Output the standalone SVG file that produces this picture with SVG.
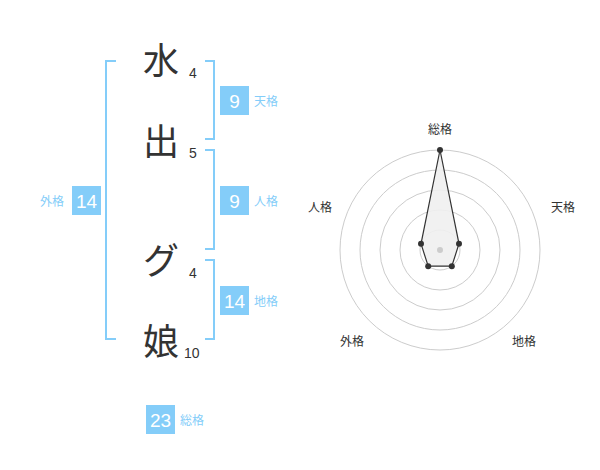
<svg xmlns="http://www.w3.org/2000/svg" width="600" height="470" viewBox="0 0 600 470">
<style>
.ch{font-family:"Noto Sans CJK JP","Noto Sans",sans-serif;font-size:36px;fill:#333;text-anchor:middle}
.st{font-family:"Liberation Sans","Noto Sans",sans-serif;font-size:14px;fill:#333}
.br{fill:none;stroke:#84cdf9;stroke-width:2}
.bx{fill:#84cdf9}
.bn{font-family:"Liberation Sans","Noto Sans",sans-serif;font-size:19px;fill:#fff;text-anchor:middle}
.lb{font-family:"Noto Sans CJK JP",sans-serif;font-size:12px;fill:#84cdf9}
.rl{font-family:"Noto Sans CJK JP",sans-serif;font-size:12px;fill:#333;text-anchor:middle}
.ring{fill:none;stroke:#ccc;stroke-width:1}
.pt{fill:#333}
</style>
<g id="chars">
<text class="ch" x="161" y="74">水</text>
<text class="ch" x="161" y="155">出</text>
<text class="ch" x="161" y="274">グ</text>
<text class="ch" x="161" y="355">娘</text>
<text class="st" x="189" y="78">4</text>
<text class="st" x="189" y="158">5</text>
<text class="st" x="189" y="278">4</text>
<text class="st" x="184" y="358">10</text>
</g>
<g id="connectors">
<path class="br" d="M116,61 H106 V339 H116"/>
<path class="br" d="M205,61 H214 V139 H205"/>
<path class="br" d="M205,150 H214 V249 H205"/>
<path class="br" d="M205,260 H214 V339 H205"/>
</g>
<g id="tenkaku">
<rect class="bx" x="220" y="86" width="29" height="29"/>
<text class="bn" x="234.5" y="107.5">9</text>
<text class="lb" x="254" y="105.5">天格</text>
</g>
<g id="jinkaku">
<rect class="bx" x="220" y="186" width="29" height="29"/>
<text class="bn" x="234.5" y="207.5">9</text>
<text class="lb" x="254" y="205.5">人格</text>
</g>
<g id="gaikaku">
<rect class="bx" x="72" y="186" width="29" height="29"/>
<text class="bn" x="86.5" y="207.5">14</text>
<text class="lb" x="40" y="205.5">外格</text>
</g>
<g id="chikaku">
<rect class="bx" x="220" y="286" width="29" height="29"/>
<text class="bn" x="234.5" y="307.5">14</text>
<text class="lb" x="254" y="305.5">地格</text>
</g>
<g id="soukaku">
<rect class="bx" x="146" y="405" width="29" height="29"/>
<text class="bn" x="160.5" y="426.5">23</text>
<text class="lb" x="180" y="424.5">総格</text>
</g>
<g id="radar">
<circle class="ring" cx="440" cy="250" r="20"/>
<circle class="ring" cx="440" cy="250" r="40"/>
<circle class="ring" cx="440" cy="250" r="60"/>
<circle class="ring" cx="440" cy="250" r="80"/>
<circle class="ring" cx="440" cy="250" r="100"/>
<polygon points="440,150 459,243.8 451.8,266.2 428.2,266.2 421,243.8" fill="#f0f0f0" fill-opacity="0.9" stroke="#333" stroke-width="1.2"/>
<circle cx="440" cy="250" r="3" fill="#ccc"/>
<circle class="pt" cx="440" cy="150" r="3"/>
<circle class="pt" cx="459" cy="243.8" r="3"/>
<circle class="pt" cx="451.8" cy="266.2" r="3"/>
<circle class="pt" cx="428.2" cy="266.2" r="3"/>
<circle class="pt" cx="421" cy="243.8" r="3"/>
<text class="rl" x="440" y="134">総格</text>
<text class="rl" x="563" y="212">天格</text>
<text class="rl" x="320" y="212">人格</text>
<text class="rl" x="352" y="346">外格</text>
<text class="rl" x="524" y="346">地格</text>
</g>
</svg>
